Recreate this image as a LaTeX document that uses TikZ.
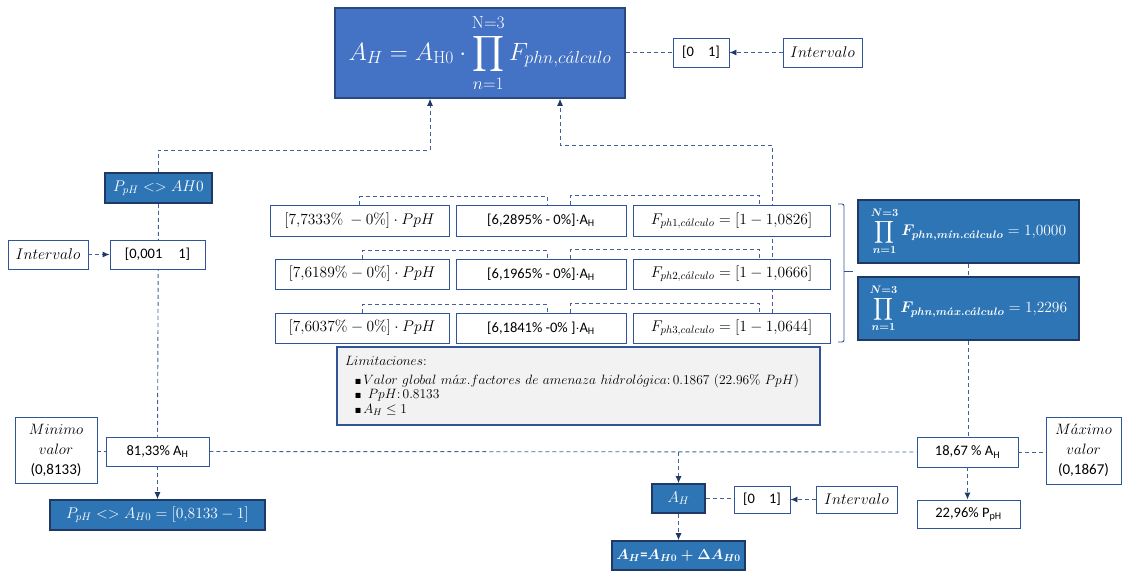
\RequirePackage{fix-cm}
\documentclass[tikz,border=0pt]{standalone}
\usepackage{amsmath,amssymb}
\usepackage[no-math]{fontspec}
\setmainfont{Carlito}
\usepackage{tikz}
\usetikzlibrary{arrows.meta,backgrounds,positioning}

\definecolor{mainblue}{HTML}{4472C4}
\definecolor{boxblue}{HTML}{2E75B6}
\definecolor{navy}{HTML}{1F3864}
\definecolor{edgeblue}{HTML}{2F5597}
\definecolor{dashblue}{HTML}{44629A}
\definecolor{limgray}{HTML}{F2F2F2}

\begin{document}
\begin{tikzpicture}[x=1pt, y=-1pt,
        wbox/.style={rectangle, draw=edgeblue, line width=0.9pt, fill=white, inner sep=2pt, font=\fontsize{14.5}{17}\selectfont},
        bbox/.style={rectangle, draw=navy, line width=1.6pt, fill=boxblue, text=white, inner sep=2pt, font=\fontsize{14.5}{17}\selectfont},
        mtext/.style={font=\fontsize{15.5}{18}\selectfont},
        link/.style={draw=dashblue, line width=0.9pt, dash pattern=on 4pt off 3pt},
        arr/.style={link, -{Latex[length=7pt,width=6pt,color=navy]}}]

        \useasboundingbox (0,0) rectangle (1123,572);

        % Nodes
        \node [bbox, fill=mainblue, draw=navy!70!mainblue, minimum width=290pt, minimum height=90pt, font=\fontsize{25}{29}\selectfont] (main) at (480,53)
            {$\displaystyle A_H = A_{\mathrm{H0}}\cdot\prod_{n=1}^{\mathrm{N}=3}F_{phn,c\acute{a}lculo}$};
        \node [wbox, minimum width=56pt, minimum height=29pt] (int1) at (701,52.5) {[0\hspace{14pt}1]};
        \node [wbox, mtext, minimum width=79pt, minimum height=29pt] (intv1) at (822.5,52.5) {$Intervalo$};

        \node [bbox, mtext, minimum width=107pt, minimum height=30pt] (pph0) at (158.5,188) {$P_{pH} \mathrel{<>} AH0$};
        \node [wbox, mtext, minimum width=80pt, minimum height=29pt] (intv2) at (48,254.5) {$Intervalo$};
        \node [wbox, minimum width=95pt, minimum height=29pt] (int2) at (157.5,254.5) {[0,001\hspace{16pt}1]};

        \node [wbox, mtext, minimum width=179pt, minimum height=31pt] (A1) at (359.5,220.5) {$[7{,}7333\%\ - 0\%]\cdot PpH$};
        \node [wbox, minimum width=170pt, minimum height=31pt] (B1) at (541,220.5) {[6,2895\% - 0\%]$\cdot$A\textsubscript{H}};
        \node [wbox, mtext, minimum width=197pt, minimum height=31pt] (C1) at (731.5,220.5) {$F_{ph1,c\acute{a}lculo} = [1 - 1{,}0826]$};

        \node [wbox, mtext, minimum width=174pt, minimum height=30pt] (A2) at (362,274) {$[7{,}6189\% - 0\%]\cdot PpH$};
        \node [wbox, minimum width=170pt, minimum height=30pt] (B2) at (541,274) {[6,1965\% - 0\%]$\cdot$A\textsubscript{H}};
        \node [wbox, mtext, minimum width=197pt, minimum height=30pt] (C2) at (731.5,274) {$F_{ph2,c\acute{a}lculo} = [1 - 1{,}0666]$};

        \node [wbox, mtext, minimum width=174pt, minimum height=30pt] (A3) at (362,328) {$[7{,}6037\% - 0\%]\cdot PpH$};
        \node [wbox, minimum width=170pt, minimum height=30pt] (B3) at (541,328) {[6,1841\% -0\% ]$\cdot$A\textsubscript{H}};
        \node [wbox, mtext, minimum width=197pt, minimum height=30pt] (C3) at (731.5,328) {$F_{ph3,calculo} = [1 - 1{,}0644]$};

        \node [wbox, fill=limgray, line width=1.2pt, minimum width=483pt, minimum height=78pt, text width=467pt, align=left, font=\fontsize{13.5}{14.5}\selectfont] (lim) at (578.5,386)
            {$Limitaciones{:}$\\[4pt]
             \hspace*{10pt}$\scriptscriptstyle\blacksquare$\,$Valor\ global\ m\acute{a}x.factores\ de\ amenaza\ hidrol\acute{o}gica{:}\,0.1867\ (22.96\%\ PpH)$\\
             \hspace*{10pt}$\scriptscriptstyle\blacksquare$\ \,$PpH{:}\,0.8133$\\
             \hspace*{10pt}$\scriptscriptstyle\blacksquare$\,$A_H \leq 1$};

        \node [bbox, minimum width=221pt, minimum height=63pt, font=\fontsize{15.5}{18}\selectfont] (pmin) at (968.5,231.5)
            {{\boldmath$\displaystyle\prod_{n=1}^{N=3}F_{phn,m\acute{\imath}n.c\acute{a}lculo}$}$\;= 1{,}0000$};
        \node [bbox, minimum width=221pt, minimum height=63pt, font=\fontsize{15.5}{18}\selectfont] (pmax) at (968.5,308.5)
            {{\boldmath$\displaystyle\prod_{n=1}^{N=3}F_{phn,m\acute{a}x.c\acute{a}lculo}$}$\;= 1{,}2296$};

        \node [wbox, minimum width=82pt, minimum height=66pt, align=center, font=\fontsize{15}{20}\selectfont] (minval) at (56,450) {$Minimo$\\$valor$\\(0,8133)};
        \node [wbox, minimum width=103pt, minimum height=29pt] (p8133) at (157.5,451.5) {81,33\% A\textsubscript{H}};
        \node [bbox, mtext, minimum width=215pt, minimum height=30pt] (res0) at (157.5,515) {$P_{pH} \mathrel{<>} A_{H0} = [0{,}8133 - 1]$};

        \node [bbox, mtext, minimum width=53pt, minimum height=29pt] (AH) at (678.5,498.5) {$A_H$};
        \node [wbox, minimum width=56pt, minimum height=27pt] (int3) at (762,499.5) {[0\hspace{14pt}1]};
        \node [wbox, mtext, minimum width=81pt, minimum height=27pt] (intv3) at (856.5,499.5) {$Intervalo$};
        \node [bbox, minimum width=133pt, minimum height=29pt] (resAH) at (678.5,555.5) {{\boldmath$A_H$}\textbf{=}{\boldmath$A_{H0}+\Delta A_{H0}$}};

        \node [wbox, minimum width=101pt, minimum height=30pt] (p1867) at (967.5,452) {18,67 \% A\textsubscript{H}};
        \node [wbox, minimum width=75pt, minimum height=67pt, align=center, font=\fontsize{15}{20}\selectfont] (maxval) at (1083.5,450.5) {$M\acute{a}ximo$\\$valor$\\(0,1867)};
        \node [wbox, minimum width=103pt, minimum height=28pt] (p2296) at (968.5,514) {22,96\% P\textsubscript{pH}};

        \coordinate (jl) at (430,150);
        \coordinate (jr) at (560,145);
        \coordinate (fv) at (772,145);
        \coordinate (split) at (AH.north |- p8133.east);

        % Edges
        \begin{scope}[on background layer]
            \draw [link] (pph0.south) -- (p8133.north);
            \draw [arr] (C3.north -| fv) -- (fv) -| (jr |- main.south);
        \end{scope}
        \draw [link] (int1.west -| main.east) -- (int1.west);
        \draw [arr] (intv1.west) -- (int1.east);
        \draw [arr] (pph0.north) |- (jl) -- (jl |- main.south);
        \draw [arr] (intv2.east) -- (int2.west);
        \foreach \r in {1,2,3} {
            \draw [link] (A\r.north) -- ++(0,-8) -| ([xshift=6pt]B\r.north);
            \draw [link] ([xshift=29pt]B\r.north) -- ++(0,-9) -| ([xshift=28pt]C\r.north);
        }
        \draw [edgeblue, line width=0.9pt, rounded corners=2pt] (838,204) -- (844,204) -- (844,342) -- (838,342);
        \draw [edgeblue, line width=0.9pt] (844,271) -- (853,271);
        \draw [link] (pmin.south) -- (pmax.north);
        \draw [link] (pmax.south) -- (pmax.south |- p1867.north);
        \draw [link] (minval.east |- p8133.west) -- (p8133.west);
        \draw [link] (p8133.east) -- (p1867.west);
        \draw [arr] (split) -- (AH.north);
        \draw [arr] (p8133.south) -- (res0.north);
        \draw [arr] (AH.south) -- (resAH.north);
        \draw [link] (AH.east) -- (AH.east -| int3.west);
        \draw [arr] (intv3.west) -- (int3.east);
        \draw [link] (p1867.east) -- (maxval.west |- p1867.east);
        \draw [arr] (p1867.south) -- (p1867.south |- p2296.north);
    \end{tikzpicture}
\end{document}
